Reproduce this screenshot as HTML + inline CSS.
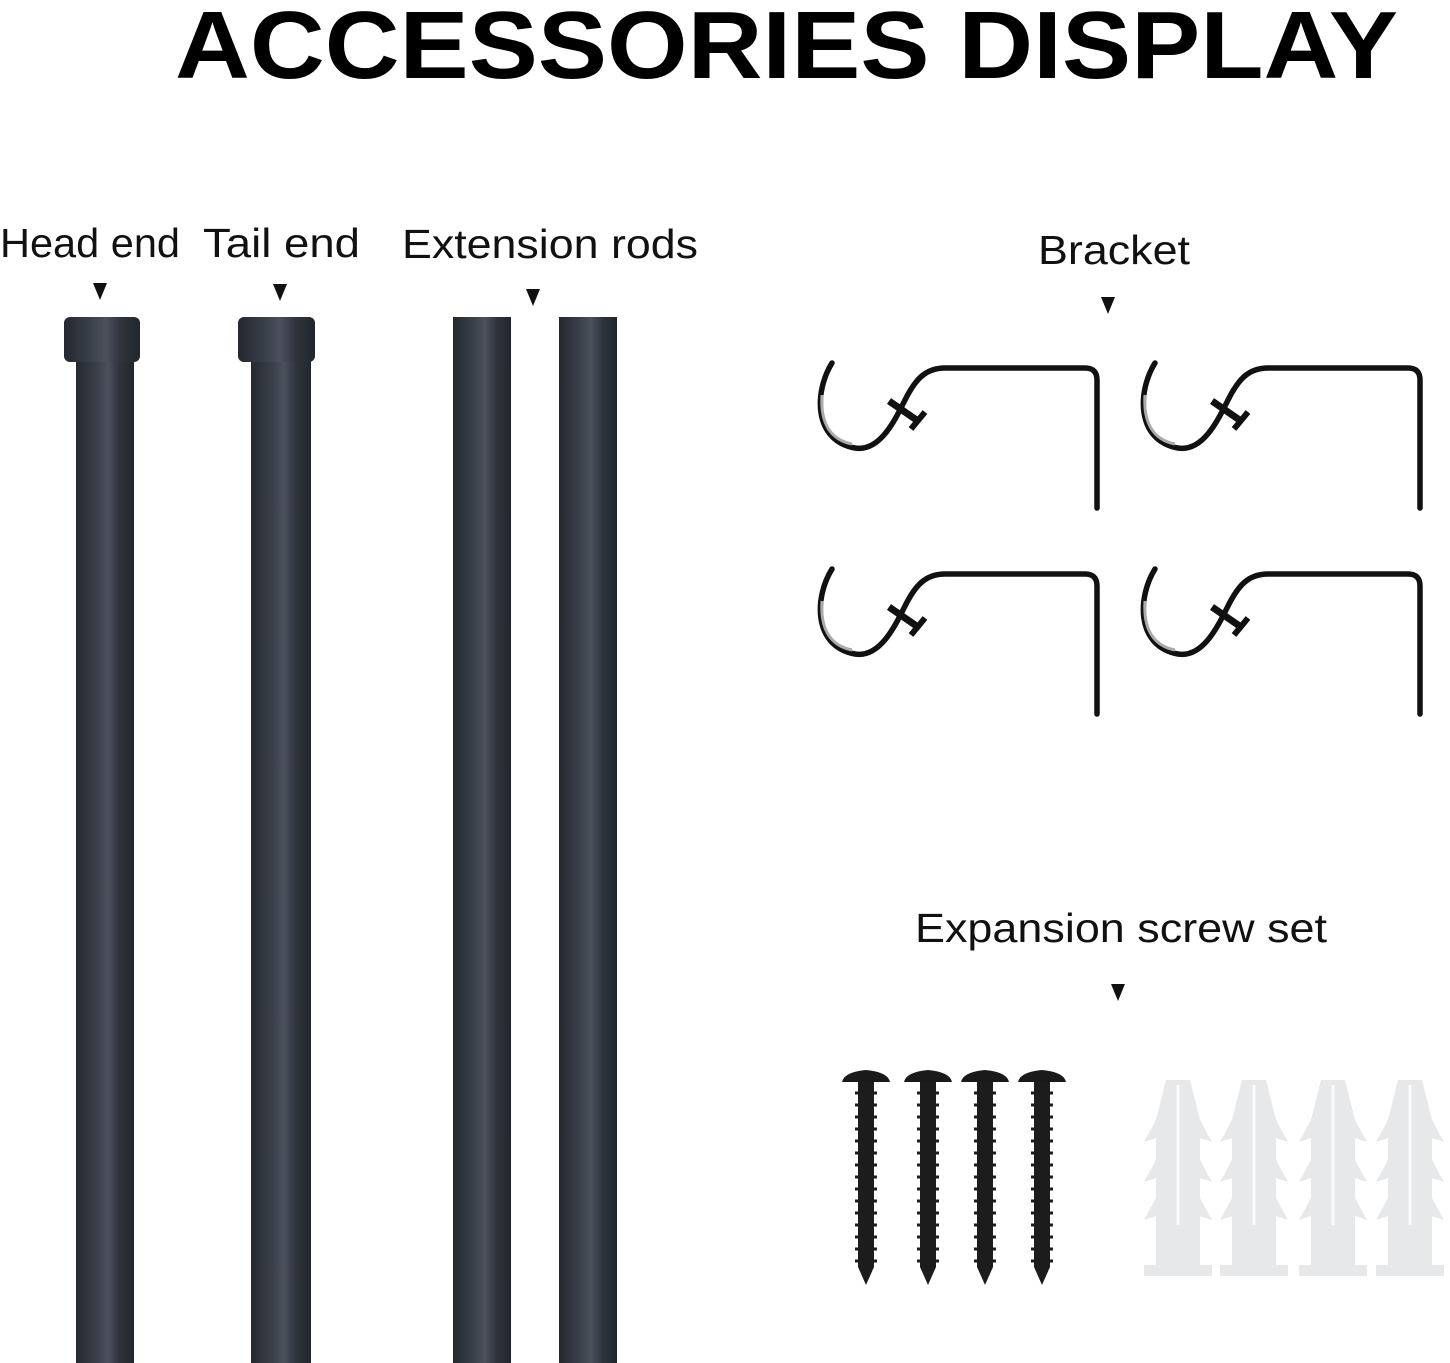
<!DOCTYPE html>
<html><head><meta charset="utf-8"><style>html,body{margin:0;padding:0;background:#fff}svg{display:block}</style></head>
<body>
<svg width="1450" height="1363" viewBox="0 0 1450 1363" xmlns="http://www.w3.org/2000/svg">
<defs>
<linearGradient id="rod" x1="0" x2="1" y1="0" y2="0">
<stop offset="0" stop-color="#24282f"/><stop offset="0.35" stop-color="#3a404a"/><stop offset="0.55" stop-color="#4a515c"/><stop offset="0.75" stop-color="#2f343c"/><stop offset="1" stop-color="#22262c"/>
</linearGradient>
<g id="br">
<path d="M832 363 C815 390 812 440 855 448 C880 452 895 420 905 400 C915 380 925 368 945 368 L1085 368 Q1097 368 1097 380 L1097 508" fill="none" stroke="#111" stroke-width="5.5" stroke-linecap="round"/>
<path d="M822 395 C820 425 832 440 852 444" fill="none" stroke="#aaa" stroke-width="3"/>
<path d="M889 401 L918 421" stroke="#111" stroke-width="7"/>
<path d="M911 429 L925 412" stroke="#111" stroke-width="6"/>
</g>
<g id="sc">
<path d="M-24 9 Q-22 -1 0 -3 Q22 -1 24 9 Z" fill="#1a1a1a"/>
<rect x="-8" y="9" width="16" height="185" fill="#1c1c1c"/>
<path d="M-8 194 L0 212 L8 194 Z" fill="#1c1c1c"/>
<g stroke="#1c1c1c" stroke-width="3">
<path d="M-11 20 H11 M-11 32 H11 M-11 44 H11 M-11 56 H11 M-11 68 H11 M-11 80 H11 M-11 92 H11 M-11 104 H11 M-11 116 H11 M-11 128 H11 M-11 140 H11 M-11 152 H11 M-11 164 H11 M-11 176 H11 M-11 188 H11"/>
</g>
</g>
<g id="an">
<path d="M-12 0 L12 0 L22 40 L34 62 L22 58 L22 80 L34 102 L22 98 L22 118 L34 140 L22 136 L22 185 L34 185 L34 196 L-34 196 L-34 185 L-22 185 L-22 136 L-34 140 L-22 118 L-22 98 L-34 102 L-22 80 L-22 58 L-34 62 L-22 40 Z" fill="#e7e8ea"/>
<rect x="-1.5" y="5" width="3" height="140" fill="#fafafa"/>
</g>
</defs>

<text x="175" y="78" font-family="Liberation Sans, sans-serif" font-weight="bold" font-size="96" textLength="1223" lengthAdjust="spacingAndGlyphs" fill="#000">ACCESSORIES DISPLAY</text>

<g font-family="Liberation Sans, sans-serif" font-size="41" fill="#111">
<text x="0" y="257" textLength="180" lengthAdjust="spacingAndGlyphs">Head end</text>
<text x="203" y="257" textLength="157" lengthAdjust="spacingAndGlyphs">Tail end</text>
<text x="402" y="258" textLength="296" lengthAdjust="spacingAndGlyphs">Extension rods</text>
<text x="1038" y="264" textLength="152" lengthAdjust="spacingAndGlyphs">Bracket</text>
<text x="915" y="942" textLength="412" lengthAdjust="spacingAndGlyphs">Expansion screw set</text>
</g>
<g fill="#111">
<path d="M93 283 L107 283 L100 300 Z"/>
<path d="M273 284 L287 284 L280 301 Z"/>
<path d="M526 289 L540 289 L533 306 Z"/>
<path d="M1101 297 L1115 297 L1108 314 Z"/>
<path d="M1111 984 L1125 984 L1118 1001 Z"/>
</g>

<rect x="76" y="355" width="58" height="1008" fill="url(#rod)"/>
<rect x="64" y="317" width="76" height="45" rx="6" fill="url(#rod)"/>
<rect x="251" y="355" width="60" height="1008" fill="url(#rod)"/>
<rect x="238" y="317" width="77" height="45" rx="6" fill="url(#rod)"/>
<rect x="453" y="317" width="58" height="1046" fill="url(#rod)"/>
<rect x="559" y="317" width="58" height="1046" fill="url(#rod)"/>

<use href="#br"/>
<use href="#br" transform="translate(323,0)"/>
<use href="#br" transform="translate(0,206)"/>
<use href="#br" transform="translate(323,206)"/>

<use href="#sc" transform="translate(866,1073)"/>
<use href="#sc" transform="translate(928,1073)"/>
<use href="#sc" transform="translate(985,1073)"/>
<use href="#sc" transform="translate(1042,1073)"/>
<use href="#an" transform="translate(1178,1080)"/>
<use href="#an" transform="translate(1254,1080)"/>
<use href="#an" transform="translate(1333,1080)"/>
<use href="#an" transform="translate(1410,1080)"/>
</svg>
</body></html>
